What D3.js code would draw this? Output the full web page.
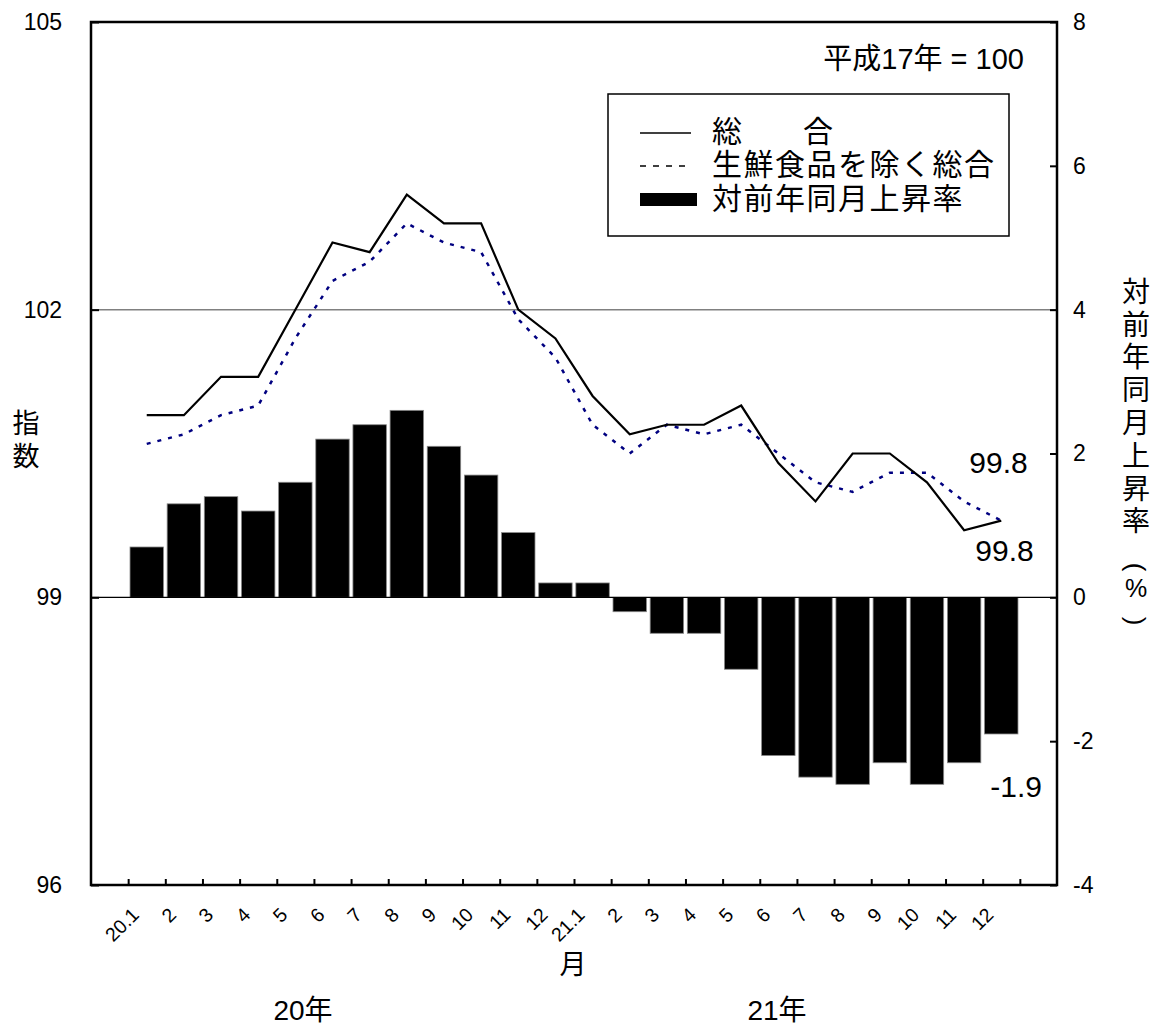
<!DOCTYPE html>
<html>
<head>
<meta charset="utf-8">
<script src="https://cdn.jsdelivr.net/npm/d3@7"></script>
<style>
body { margin: 0; background: #fff; }
text { font-family: "Liberation Sans", "Noto Sans CJK JP", sans-serif; fill: #000; }
</style>
</head>
<body>
<div id="chart"></div>
<script>

// months (unique keys) and the labels printed under the axis
var months = ["20.1","20.2","20.3","20.4","20.5","20.6","20.7","20.8","20.9","20.10","20.11","20.12",
              "21.1","21.2","21.3","21.4","21.5","21.6","21.7","21.8","21.9","21.10","21.11","21.12"];
var tickLabels = ["20.1","2","3","4","5","6","7","8","9","10","11","12",
                  "21.1","2","3","4","5","6","7","8","9","10","11","12"];

// 総合 index (left axis)
var sogo = [100.9,100.9,101.3,101.3,102.0,102.7,102.6,103.2,102.9,102.9,102.0,101.7,
            101.1,100.7,100.8,100.8,101.0,100.4,100.0,100.5,100.5,100.2,99.7,99.8];
// 生鮮食品を除く総合 index (left axis)
var core = [100.6,100.7,100.9,101.0,101.7,102.3,102.5,102.9,102.7,102.6,101.9,101.5,
            100.8,100.5,100.8,100.7,100.8,100.5,100.2,100.1,100.3,100.3,100.0,99.8];
// 対前年同月上昇率 % (right axis)
var change = [0.7,1.3,1.4,1.2,1.6,2.2,2.4,2.6,2.1,1.7,0.9,0.2,
              0.2,-0.2,-0.5,-0.5,-1.0,-2.2,-2.5,-2.6,-2.3,-2.6,-2.3,-1.9];

var leftTicks = [96,99,102,105];
var rightTicks = [-4,-2,0,2,4,6,8];
var legendNames = ["総合","生鮮食品を除く総合","対前年同月上昇率"];
var yearLabels = ["20年","21年"];
var leftTitle = ["指","数"];
var rightTitle = ["対","前","年","同","月","上","昇","率"];

var width = 1158, height = 1036;
var plotL = 91, plotR = 1057, plotT = 22, plotB = 885;
var FONT = '"Liberation Sans", "Noto Sans CJK JP", sans-serif';

var svg = d3.select("#chart").append("svg")
    .attr("width", width)
    .attr("height", height);

var step = (plotR - plotL) / 26;
var x = d3.scaleBand()
    .domain(months)
    .range([plotL + step, plotR - step])
    .paddingInner(0.1)
    .paddingOuter(0.05);
var xEdge = d3.scaleLinear().domain([0, 26]).range([plotL, plotR]);
var yL = d3.scaleLinear().domain([96, 105]).range([plotB, plotT]);
var yR = d3.scaleLinear().domain([-4, 8]).range([plotB, plotT]);
var xc = function(i) { return x(months[i]) + x.bandwidth() / 2; };

// gridline at 102
svg.append("line")
    .attr("x1", plotL).attr("x2", plotR)
    .attr("y1", yL(102)).attr("y2", yL(102))
    .style("stroke", "#808080")
    .style("stroke-width", 1.5);

// bars
svg.selectAll("rect.bar")
    .data(change)
    .enter()
    .append("rect")
    .attr("class", "bar")
    .attr("x", function(d, i) { return x(months[i]); })
    .attr("width", x.bandwidth())
    .attr("y", function(d) { return Math.min(yR(d), yR(0)); })
    .attr("height", function(d) { return Math.abs(yR(d) - yR(0)); })
    .style("fill", "#000")
    .style("stroke", "#888")
    .style("stroke-width", 0.8);

// zero line of the bars
svg.append("line")
    .attr("x1", plotL).attr("x2", plotR)
    .attr("y1", yR(0)).attr("y2", yR(0))
    .style("stroke", "#000")
    .style("stroke-width", 1.2);

// lines
var line = d3.line()
    .x(function(d, i) { return xc(i); });

svg.append("path")
    .datum(core)
    .attr("d", line.y(function(d) { return yL(d); }))
    .style("fill", "none")
    .style("stroke", "#000080")
    .style("stroke-width", 2.5)
    .style("stroke-dasharray", "4,7");

svg.append("path")
    .datum(sogo)
    .attr("d", line.y(function(d) { return yL(d); }))
    .style("fill", "none")
    .style("stroke", "#000")
    .style("stroke-width", 2.2);

// frame
svg.append("rect")
    .attr("x", plotL).attr("y", plotT)
    .attr("width", plotR - plotL).attr("height", plotB - plotT)
    .style("fill", "none")
    .style("stroke", "#000")
    .style("stroke-width", 2.5);

// axes
var gl = svg.append("g")
    .attr("transform", "translate(" + plotL + ",0)")
    .call(d3.axisLeft(yL).tickValues(leftTicks).tickSizeInner(-8).tickSizeOuter(0).tickPadding(29));
var gr = svg.append("g")
    .attr("transform", "translate(" + plotR + ",0)")
    .call(d3.axisRight(yR).tickValues(rightTicks).tickSizeInner(-7).tickSizeOuter(0).tickPadding(16)
        .tickFormat(function(d) { return String(d); }));
var gb = svg.append("g")
    .attr("transform", "translate(0," + plotB + ")")
    .call(d3.axisBottom(xEdge).tickValues(d3.range(1, 26)).tickSizeInner(-6).tickSizeOuter(0).tickFormat(""));

[gl, gr, gb].forEach(function(g) {
    g.attr("font-family", FONT).attr("font-size", 23);
    g.select(".domain").remove();
    g.selectAll(".tick line").style("stroke", "#000").style("stroke-width", 2);
    g.selectAll(".tick text").style("fill", "#000");
});

// month labels, rotated
svg.selectAll("text.xl")
    .data(tickLabels)
    .enter()
    .append("text")
    .attr("class", "xl")
    .attr("transform", function(d, i) { return "translate(" + (xEdge(i + 1) + 12) + ",916) rotate(-45)"; })
    .attr("text-anchor", "end")
    .attr("font-size", 19.5)
    .text(function(d) { return d; });

svg.append("text")
    .attr("x", (xEdge(12) + xEdge(14)) / 2 - 1)
    .attr("y", 965)
    .attr("dy", "0.35em")
    .attr("text-anchor", "middle")
    .attr("font-size", 27)
    .text("月");

svg.selectAll("text.year")
    .data(yearLabels)
    .enter()
    .append("text")
    .attr("class", "year")
    .attr("x", function(d, i) { return i === 0 ? 303 : 777; })
    .attr("y", 1010)
    .attr("dy", "0.35em")
    .attr("text-anchor", "middle")
    .attr("font-size", 28)
    .text(function(d) { return d; });

// axis titles
svg.selectAll("text.lt")
    .data(leftTitle)
    .enter()
    .append("text")
    .attr("class", "lt")
    .attr("x", 26)
    .attr("y", function(d, i) { return 424 + i * 33; })
    .attr("dy", "0.35em")
    .attr("text-anchor", "middle")
    .attr("font-size", 27)
    .text(function(d) { return d; });

svg.selectAll("text.rt")
    .data(rightTitle)
    .enter()
    .append("text")
    .attr("class", "rt")
    .attr("x", 1136)
    .attr("y", function(d, i) { return 292 + i * 32.8; })
    .attr("dy", "0.35em")
    .attr("text-anchor", "middle")
    .attr("font-size", 28)
    .text(function(d) { return d; });

svg.append("text")
    .attr("transform", "translate(1136,567) rotate(90)")
    .attr("dy", "0.35em")
    .attr("text-anchor", "middle")
    .attr("font-size", 26)
    .text("(");
svg.append("text")
    .attr("x", 1136).attr("y", 588)
    .attr("dy", "0.35em")
    .attr("text-anchor", "middle")
    .attr("font-size", 25)
    .text("%");
svg.append("text")
    .attr("transform", "translate(1136,621) rotate(90)")
    .attr("dy", "0.35em")
    .attr("text-anchor", "middle")
    .attr("font-size", 26)
    .text(")");

// base year note
svg.append("text")
    .attr("x", 1024).attr("y", 69)
    .attr("text-anchor", "end")
    .attr("font-size", 29)
    .text("平成17年 = 100");

// legend
svg.append("rect")
    .attr("x", 608).attr("y", 94)
    .attr("width", 401).attr("height", 142)
    .style("fill", "#fff")
    .style("stroke", "#000")
    .style("stroke-width", 1.5);

var legendY = [131, 164, 198];
svg.append("line")
    .attr("x1", 640).attr("x2", 691)
    .attr("y1", legendY[0] + 2).attr("y2", legendY[0] + 2)
    .style("stroke", "#000").style("stroke-width", 1.5);
svg.append("line")
    .attr("x1", 640).attr("x2", 691)
    .attr("y1", legendY[1] + 2).attr("y2", legendY[1] + 2)
    .style("stroke", "#000").style("stroke-width", 1.5)
    .style("stroke-dasharray", "6,7");
svg.append("rect")
    .attr("x", 640).attr("y", legendY[2] - 5)
    .attr("width", 57).attr("height", 13)
    .style("fill", "#000");

svg.selectAll("text.lg")
    .data(legendNames)
    .enter()
    .append("text")
    .attr("class", "lg")
    .attr("x", 712)
    .attr("y", function(d, i) { return legendY[i]; })
    .attr("dy", "0.35em")
    .attr("font-size", 30)
    .attr("letter-spacing", function(d, i) { return i === 0 ? 61 : 1.5; })
    .text(function(d) { return d; });

// end-of-series value labels
var last = months.length - 1;
svg.append("text")
    .attr("x", xc(last) - 32)
    .attr("y", yL(core[last]) - 48)
    .attr("font-size", 30)
    .text(core[last].toFixed(1));
svg.append("text")
    .attr("x", xc(last) - 26)
    .attr("y", yL(sogo[last]) + 40)
    .attr("font-size", 30)
    .text(sogo[last].toFixed(1));
svg.append("text")
    .attr("x", xc(last) - 11)
    .attr("y", yR(change[last]) + 63)
    .attr("font-size", 30)
    .text(change[last].toFixed(1));

</script>
</body>
</html>
